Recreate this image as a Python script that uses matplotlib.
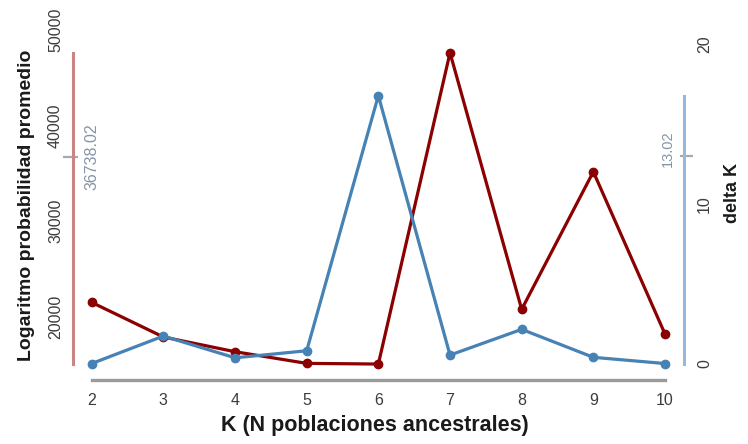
import matplotlib
matplotlib.use("Agg")
import matplotlib.pyplot as plt

# ---- data ----
K = [2, 3, 4, 5, 6, 7, 8, 9, 10]
loglik = [21500, 17880, 16340, 15120, 15050, 47620, 20770, 35170, 18190]
delta_k = [0.0, 1.72, 0.36, 0.80, 16.77, 0.53, 2.14, 0.39, 0.0]
mean_loglik = 36738.02
mean_deltak = 13.02
left_ticks = [20000, 30000, 40000, 50000]
right_ticks = [0, 10, 20]

RED = "#8B0000"
BLUE = "#4682B4"
RED_SPINE = "#cc8585"
BLUE_SPINE = "#96b9db"
MEAN_COL = "#8494a6"
TICK_COL = "#3c3c3c"

plt.rcParams["font.family"] = ["Liberation Sans", "DejaVu Sans"]

fig = plt.figure(figsize=(7.48, 4.44), dpi=100)
ax = fig.add_axes([72.7 / 748, 64 / 444, (684 - 72.7) / 748, 350 / 444])
ax2 = ax.twinx()

ax.plot(K, loglik, color=RED, lw=2.3, marker="o", ms=6, clip_on=False)
ax2.plot(K, delta_k, color=BLUE, lw=2.3, marker="o", ms=6, clip_on=False)

ax.set_xlim(1.735, 10.265)
ax.set_ylim(13380, 50000)
ax2.set_ylim(-1.03, 20.88)

for a in (ax, ax2):
    for s in a.spines.values():
        s.set_visible(False)

ax.spines["left"].set_visible(True)
ax.spines["left"].set_bounds(min(loglik), max(loglik))
ax.spines["left"].set_color(RED_SPINE)
ax.spines["left"].set_linewidth(2.2)

ax.spines["bottom"].set_visible(True)
ax.spines["bottom"].set_bounds(min(K), max(K))
ax.spines["bottom"].set_color("#9a9a9a")
ax.spines["bottom"].set_linewidth(2.4)

ax2.spines["right"].set_visible(True)
ax2.spines["right"].set_bounds(min(delta_k), max(delta_k))
ax2.spines["right"].set_color(BLUE_SPINE)
ax2.spines["right"].set_linewidth(2.2)

ax.set_xticks(K)
ax.set_yticks(left_ticks)
ax2.set_yticks(right_ticks)
ax.tick_params(axis="x", length=0, pad=9, labelsize=11.5, labelcolor=TICK_COL)
ax.tick_params(axis="y", length=0, pad=7, labelsize=11.5, labelcolor=TICK_COL,
               labelrotation=90)
ax2.tick_params(axis="y", length=0, pad=9.5, labelsize=11.5, labelcolor=TICK_COL,
                labelrotation=90)
for t in ax.get_yticklabels() + ax2.get_yticklabels():
    t.set_va("center")

ax.set_xlabel("K (N poblaciones ancestrales)", fontsize=15.5, fontweight="bold",
              color="#1a1a1a")
ax.xaxis.set_label_coords(0.4945, -0.10)
ax.set_ylabel("Logaritmo probabilidad promedio", fontsize=14, fontweight="bold",
              color="#1a1a1a")
ax.yaxis.set_label_coords(-0.062, 0.5)
ax2.set_ylabel("delta K", fontsize=13, fontweight="bold", color="#1a1a1a")
ax2.yaxis.set_label_coords(1.066, 0.535)

# mean markers
ax.plot([-0.016, 0.009], [mean_loglik, mean_loglik], color="#a3aab2", lw=1.6,
        transform=ax.get_yaxis_transform(), clip_on=False, solid_capstyle="butt")
ax.text(0.0316, mean_loglik, f"{mean_loglik:.2f}", rotation=90, ha="center",
        va="center", color=MEAN_COL, fontsize=11.5,
        transform=ax.get_yaxis_transform())
ax2.plot([0.9935, 1.0147], [mean_deltak, mean_deltak], color="#a3aab2", lw=1.6,
         transform=ax2.get_yaxis_transform(), clip_on=False, solid_capstyle="butt")
ax2.text(0.9738, mean_deltak + 0.4, f"{mean_deltak:.2f}", rotation=90, ha="center",
         va="center", color=MEAN_COL, fontsize=10.5,
         transform=ax2.get_yaxis_transform())

fig.savefig("out.png", dpi=100)
